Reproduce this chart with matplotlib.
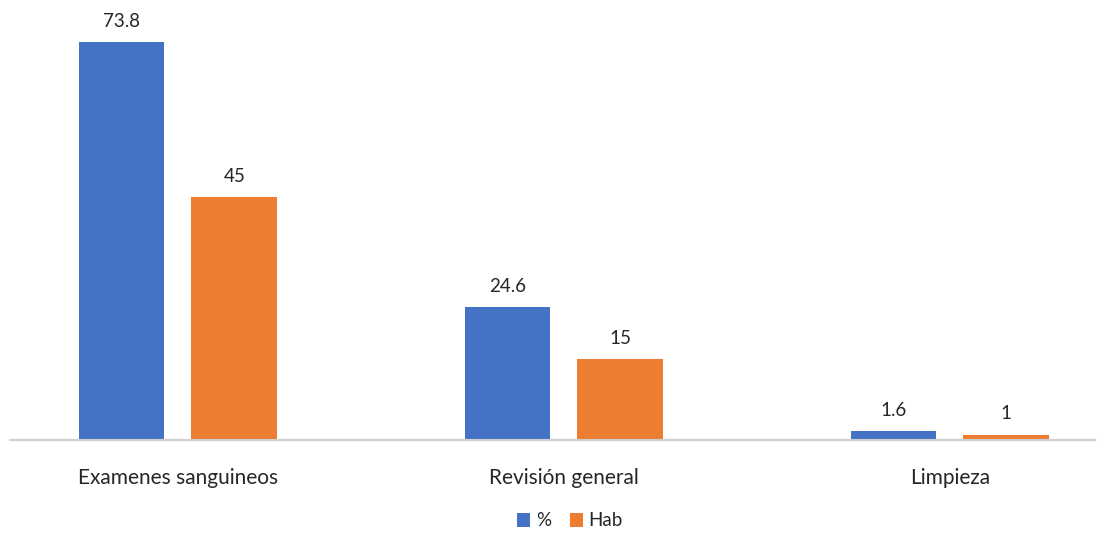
import numpy as np
import matplotlib.pyplot as plt

# --- Data ---
categories = ["Examenes sanguineos", "Revisión general", "Limpieza"]
pct = [73.8, 24.6, 1.6]
hab = [45, 15, 1]
series_names = ["%", "Hab"]

# --- Style ---
plt.rcParams['font.family'] = ['Lato', 'DejaVu Sans']
blue = '#4472C4'
orange = '#ED7D31'

fig = plt.figure(figsize=(11.04, 5.33), dpi=100)
ax = fig.add_axes([10/1104, 93/533, 1085/1104, 440/533])

x = np.arange(len(categories))
w = 0.222
gap = 0.07
b1 = ax.bar(x - (w + gap)/2, pct, width=w, color=blue, label=series_names[0])
b2 = ax.bar(x + (w + gap)/2, hab, width=w, color=orange, label=series_names[1])

# value labels above each bar
for bars, vals in [(b1, pct), (b2, hab)]:
    for rect, v in zip(bars, vals):
        ax.annotate(f"{v:g}", (rect.get_x() + rect.get_width()/2, v),
                    xytext=(0, 9), textcoords='offset points',
                    ha='center', va='bottom', fontsize=13.5, color='#262626')

ax.set_xlim(-0.435, 2.376)
ax.set_ylim(0, 81.6)
ax.set_xticks(x)
ax.set_xticklabels(categories, fontsize=15, color='#262626')
ax.tick_params(axis='x', length=0, pad=20)
ax.set_yticks([])
for s in ['top', 'right', 'left']:
    ax.spines[s].set_visible(False)
ax.spines['bottom'].set_color('#D0D0D0')
ax.spines['bottom'].set_linewidth(1.5)

fig.legend(loc='center', bbox_to_anchor=(570/1104, 12/533), ncol=2, frameon=False,
           fontsize=13.5, handlelength=0.7, handleheight=0.7, handletextpad=0.3,
           columnspacing=1.0, labelcolor='#262626')

plt.savefig('out.png', dpi=100)
plt.close()
